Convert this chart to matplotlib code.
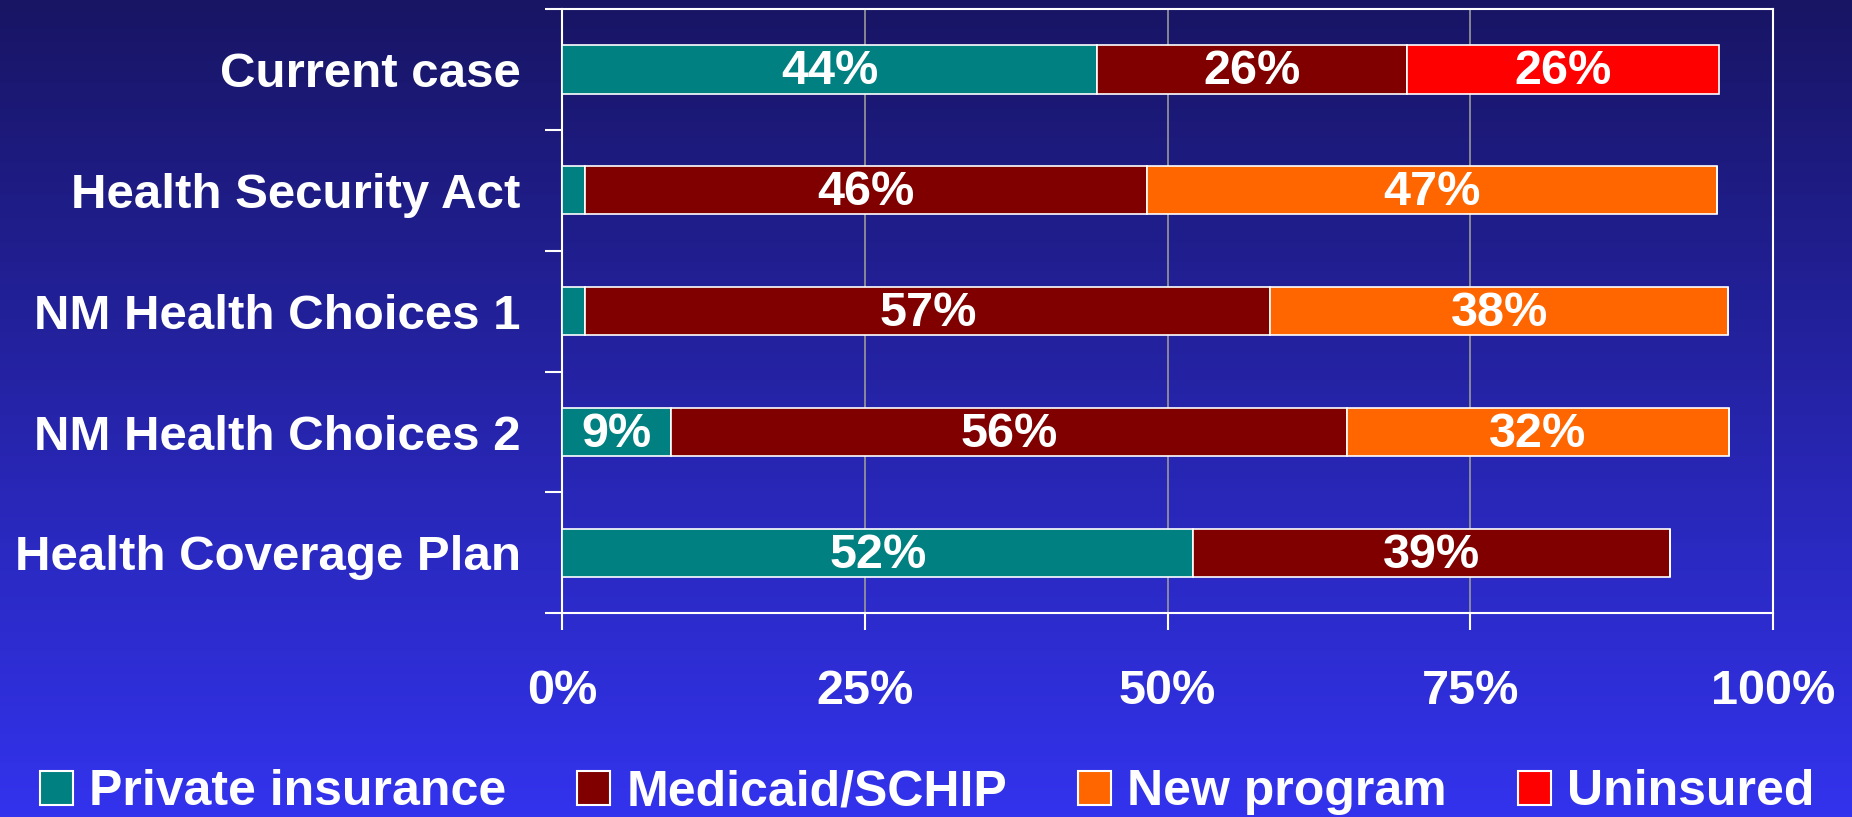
"""
Stacked horizontal bars: coverage source by plan
"""
import matplotlib
matplotlib.use("Agg")
import matplotlib.pyplot as plt
import numpy as np
from matplotlib.patches import Patch

plt.rcParams['font.family'] = ['Liberation Sans', 'DejaVu Sans']
plt.rcParams['font.weight'] = 'bold'

plans = ["Current case", "Health Security Act", "NM Health Choices 1",
         "NM Health Choices 2", "Health Coverage Plan"]
series = ["Private insurance", "Medicaid/SCHIP", "New program", "Uninsured"]
private = [44.2, 1.9, 1.9, 9.0, 52.1]
medicaid = [25.6, 46.4, 56.6, 55.8, 39.4]
new_program = [0.0, 47.1, 37.8, 31.6, 0.0]
uninsured = [25.8, 0.0, 0.0, 0.0, 0.0]
colors = ["#008080", "#800000", "#FF6600", "#FF0000"]
x_ticks = [0, 25, 50, 75, 100]
x_labels = ["0%", "25%", "50%", "75%", "100%"]

fig = plt.figure(figsize=(18.52, 8.17), dpi=100)

# gradient background
bg = fig.add_axes([0, 0, 1, 1], zorder=-10)
top = np.array([24, 21, 100]) / 255
bottom = np.array([51, 51, 238]) / 255
t = np.linspace(0, 1, 256)[:, None]
grad = top[None, None, :] * (1 - t[:, :, None]) + bottom[None, None, :] * t[:, :, None]
grad = np.repeat(grad, 2, axis=1)
bg.imshow(grad, aspect='auto', extent=[0, 1, 0, 1])
bg.axis('off')

ax = fig.add_axes([0.3037, 0.2493, 0.6535, 0.7397])
ax.set_facecolor('none')

y = np.arange(len(plans))
left = np.zeros(len(plans))
for vals, col in zip([private, medicaid, new_program, uninsured], colors):
    vals = np.array(vals)
    ax.barh(y, vals, left=left, height=0.4, color=col, edgecolor='white',
            linewidth=1.2, zorder=3)
    for yi, (l, v) in enumerate(zip(left, vals)):
        if v >= 5:
            ax.text(l + v / 2, yi + 0.02, f"{round(v)}%", ha='center', va='center',
                    color='white', fontsize=35, fontweight='bold', zorder=4)
    left = left + vals

ax.set_xlim(0, 100)
ax.set_ylim(4.5, -0.5)
ax.set_xticks(x_ticks)
ax.set_xticklabels(x_labels)
ax.set_yticks(np.arange(-0.5, 5, 1))
ax.set_yticklabels([])
ax.set_yticks(y, minor=True)
ax.set_yticklabels(plans, minor=True)
ax.tick_params(axis='y', which='major', direction='out', length=12, width=1.5, color='white')
ax.tick_params(axis='y', which='minor', length=0, pad=30, labelsize=35.5, labelcolor='white')
ax.tick_params(axis='x', direction='out', length=12, width=1.5, color='white',
               pad=28, labelsize=35, labelcolor='white')
for s in ax.spines.values():
    s.set_color('white')
    s.set_linewidth(1.5)
ax.grid(axis='x', color='#999999', linewidth=1.2, zorder=0)

handles = [Patch(facecolor=c, edgecolor='white', linewidth=1.5) for c in colors]
fig.legend(handles, series, loc='center', bbox_to_anchor=(0.5005, 0.03), ncol=4,
           frameon=False, fontsize=36, handlelength=0.66, handleheight=0.66,
           handletextpad=0.32, columnspacing=1.42, labelcolor='white',
           borderaxespad=0)

fig.savefig("out.png", dpi=100)
